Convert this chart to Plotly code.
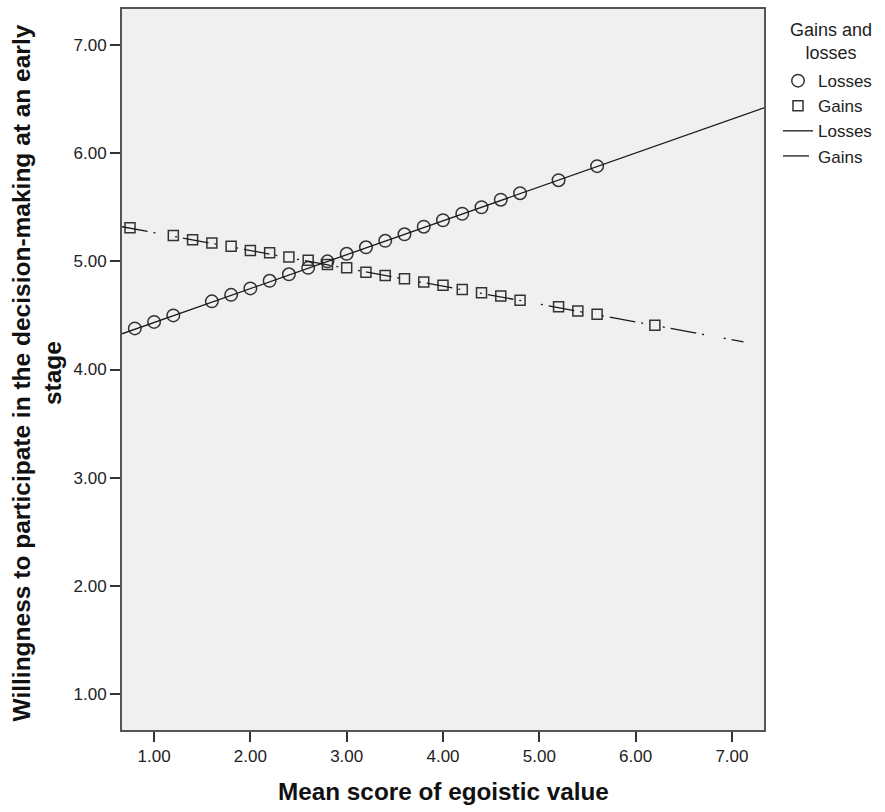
import plotly.graph_objects as go

# ---- data ----
loss_x = [0.8, 1.0, 1.2, 1.6, 1.8, 2.0, 2.2, 2.4, 2.6, 2.8, 3.0, 3.2, 3.4,
          3.6, 3.8, 4.0, 4.2, 4.4, 4.6, 4.8, 5.2, 5.6]
loss_y = [4.38, 4.44, 4.50, 4.63, 4.69, 4.75, 4.82, 4.88, 4.94, 5.00, 5.07,
          5.13, 5.19, 5.25, 5.32, 5.38, 5.44, 5.50, 5.57, 5.63, 5.75, 5.88]

gain_x = [0.75, 1.2, 1.4, 1.6, 1.8, 2.0, 2.2, 2.4, 2.6, 2.8, 3.0, 3.2, 3.4,
          3.6, 3.8, 4.0, 4.2, 4.4, 4.6, 4.8, 5.2, 5.4, 5.6, 6.2]
gain_y = [5.31, 5.24, 5.20, 5.17, 5.14, 5.10, 5.08, 5.04, 5.01, 4.97, 4.94,
          4.90, 4.87, 4.84, 4.81, 4.78, 4.74, 4.71, 4.68, 4.64, 4.58, 4.54,
          4.51, 4.41]

# fitted lines (end points of the drawn fit lines)
loss_fit_x = [0.667, 7.333]
loss_fit_y = [4.33, 6.42]
gain_fit_x = [0.667, 7.12]
gain_fit_y = [5.32, 4.255]

tick_vals = [1, 2, 3, 4, 5, 6, 7]
tick_text = ["1.00", "2.00", "3.00", "4.00", "5.00", "6.00", "7.00"]

FONT = "Arial, Liberation Sans, sans-serif"
INK = "#1a1a1a"
MARK = "#333333"

fig = go.Figure()

fig.add_trace(go.Scatter(
    x=loss_x, y=loss_y, mode="markers", name="Losses",
    marker=dict(symbol="circle-open", size=12.5, color=MARK,
                line=dict(width=1.5, color=MARK)),
))
fig.add_trace(go.Scatter(
    x=gain_x, y=gain_y, mode="markers", name="Gains",
    marker=dict(symbol="square-open", size=10, color=MARK,
                line=dict(width=1.5, color=MARK)),
))
fig.add_trace(go.Scatter(
    x=loss_fit_x, y=loss_fit_y, mode="lines", name="Losses",
    line=dict(color=INK, width=1.3),
))
fig.add_trace(go.Scatter(
    x=gain_fit_x, y=gain_fit_y, mode="lines", name="Gains",
    line=dict(color=INK, width=1.3, dash="26px,6px,2px,20px,2px,6px"),
))

axis_common = dict(
    range=[0.667, 7.333], tickmode="array", tickvals=tick_vals,
    ticktext=tick_text, ticks="outside", ticklen=10, tickwidth=2,
    tickcolor="#333", showline=True, linecolor="#555", linewidth=2,
    mirror=True, showgrid=False, zeroline=False,
    tickfont=dict(family=FONT, size=17, color="#222"),
)

fig.update_layout(
    width=885, height=812, autosize=False,
    margin=dict(l=122, r=121, t=7, b=82),
    paper_bgcolor="white", plot_bgcolor="#f0f0f0",
    xaxis=dict(**axis_common),
    yaxis=dict(**axis_common),
    showlegend=True,
    legend=dict(x=(778 - 122) / 642, xanchor="left", y=0.925, yanchor="top",
                font=dict(family=FONT, size=17, color="#222"),
                bgcolor="rgba(0,0,0,0)", traceorder="normal",
                itemwidth=30),
    annotations=[
        dict(text="Gains and<br>losses", xref="paper", yref="paper",
             x=(831 - 122) / 642, y=1 + (7 - 16) / 723, xanchor="center",
             yanchor="top", showarrow=False, align="center",
             font=dict(family=FONT, size=18, color="#222")),
        dict(text="<b>Mean score of egoistic value</b>", xref="paper",
             yref="paper", x=0.5, y=-(792 - 730) / 723, xanchor="center",
             yanchor="middle", showarrow=False,
             font=dict(family=FONT, size=24.3, color="#111")),
        dict(text="<b>Willingness to participate in the decision-making at an early<br>stage</b>",
             xref="paper", yref="paper", x=(37 - 122) / 642, y=0.5 - 4 / 723,
             xanchor="center", yanchor="middle", textangle=-90,
             showarrow=False, align="center",
             font=dict(family=FONT, size=24.5, color="#111")),
    ],
)

fig.write_html("out.html", config={"displayModeBar": False},
               post_script="document.body.style.margin='0px';")
